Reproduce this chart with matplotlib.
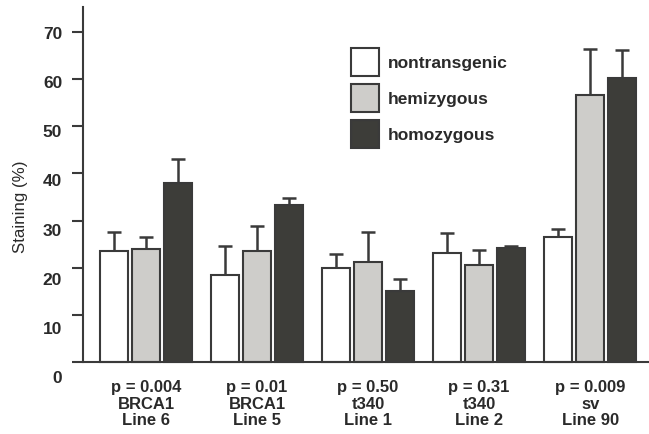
import numpy as np
import matplotlib.pyplot as plt

plt.rcParams['font.family'] = ['Liberation Sans', 'DejaVu Sans']

groups = ['p = 0.004\nBRCA1\nLine 6', 'p = 0.01\nBRCA1\nLine 5', 'p = 0.50\nt340\nLine 1',
          'p = 0.31\nt340\nLine 2', 'p = 0.009\nsv\nLine 90']
series = ['nontransgenic', 'hemizygous', 'homozygous']
nontransgenic = [23.6, 18.5, 20.0, 23.2, 26.4]
nontransgenic_err = [4.0, 6.0, 3.0, 4.1, 1.8]
hemizygous = [23.9, 23.6, 21.3, 20.6, 56.6]
hemizygous_err = [2.7, 5.2, 6.2, 3.2, 9.8]
homozygous = [38.0, 33.2, 15.0, 24.2, 60.3]
homozygous_err = [5.1, 1.6, 2.5, 0.4, 5.9]
yticks = list(range(0, 80, 10))

colors = ['white', '#cecdca', '#3d3d39']
edge = '#3a3a3a'
textc = '#2a2a2a'

fig = plt.figure(figsize=(6.49, 4.35), dpi=100)
# axes extends a bit below zero so the (slightly drifting) tick labels fit like the original
ax = fig.add_axes([83/649, 57/435, 566/649, 370/435])

x = np.arange(len(groups))
width = 0.252
step = 0.288
vals = [nontransgenic, hemizygous, homozygous]
errs = [nontransgenic_err, hemizygous_err, homozygous_err]
for i in range(3):
    ax.bar(x + (i - 1) * step, vals[i], width, color=colors[i], edgecolor=edge,
           linewidth=1.5, label=series[i], zorder=2)
    ax.errorbar(x + (i - 1) * step, vals[i], yerr=[np.zeros(5), errs[i]], fmt='none',
                ecolor=edge, elinewidth=1.8, capsize=4.7, capthick=1.8, zorder=1)

ax.set_xlim(-0.568, 4.53)
ax.set_ylim(-3.2, 75.3)
ax.axhline(0, color=edge, lw=1.5, zorder=3)
ax.set_yticks(yticks)
ax.tick_params(axis='y', length=8, width=1.5, color=edge, labelleft=False)
ax.set_xticks(x)
ax.set_xticklabels(groups, fontsize=12, fontweight='bold', linespacing=1.12, color=textc)
ax.tick_params(axis='x', length=0, pad=1.5)
for s in ['top', 'right', 'bottom']:
    ax.spines[s].set_visible(False)
ax.spines['left'].set_linewidth(1.5)
ax.spines['left'].set_color(edge)
ax.spines['left'].set_bounds(0, 75.3)

# tick labels in the original are spaced a little wider than the ticks
k = 1.0424
sec = ax.secondary_yaxis('left', functions=(lambda y: 70 - (70 - y) / k, lambda v: 70 - (70 - v) * k))
sec.set_yticks(yticks)
sec.tick_params(length=0, pad=15, labelsize=12.5, labelcolor=textc)
for lab in sec.get_yticklabels():
    lab.set_fontweight('bold')
sec.spines['left'].set_visible(False)

ax.set_ylabel('Staining (%)', fontsize=12.2, color=textc)
ax.yaxis.set_label_coords(-0.097, 0.462)

leg = ax.legend(loc='upper left', bbox_to_anchor=(351/649, 1-49/435), bbox_transform=fig.transFigure,
                frameon=False, borderpad=0, borderaxespad=0, handlelength=1.61, handleheight=2.11,
                handletextpad=0.5, labelspacing=0.45, prop={'size': 12.5, 'weight': 'bold'})
for t in leg.get_texts():
    t.set_color(textc)

fig.savefig('out.png', dpi=100)
